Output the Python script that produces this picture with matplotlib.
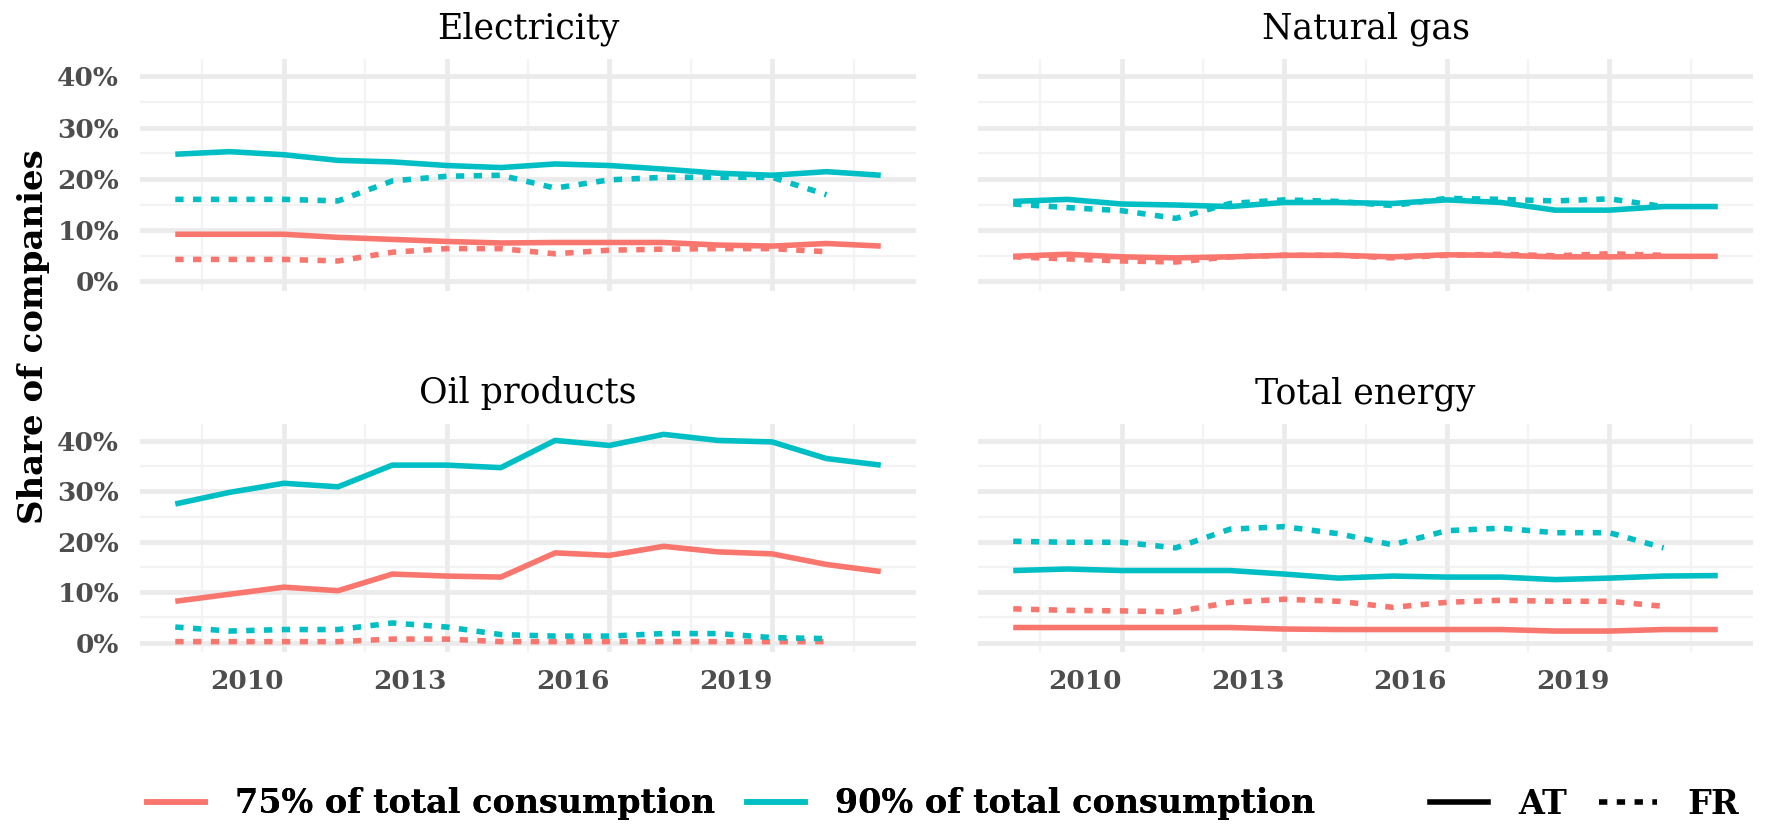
import matplotlib
matplotlib.use("Agg")
import matplotlib.pyplot as plt
from matplotlib.lines import Line2D
from matplotlib.ticker import FixedLocator, FuncFormatter

plt.rcParams['font.family'] = ['DejaVu Serif']

# yearly shares of companies (%), AT runs to 2021, FR to 2020
years_at = [2008, 2009, 2010, 2011, 2012, 2013, 2014, 2015, 2016, 2017, 2018, 2019, 2020, 2021]
years_fr = [2008, 2009, 2010, 2011, 2012, 2013, 2014, 2015, 2016, 2017, 2018, 2019, 2020]

elec_at_75 = [9.2, 9.2, 9.2, 8.6, 8.2, 7.8, 7.5, 7.6, 7.6, 7.6, 7.1, 6.9, 7.4, 6.9]
elec_at_90 = [24.8, 25.3, 24.7, 23.6, 23.3, 22.6, 22.2, 22.9, 22.6, 21.9, 21.1, 20.7, 21.4, 20.7]
elec_fr_75 = [4.3, 4.3, 4.3, 4.0, 5.7, 6.4, 6.4, 5.4, 6.1, 6.3, 6.4, 6.4, 5.8]
elec_fr_90 = [16.0, 16.0, 16.0, 15.7, 19.6, 20.5, 20.7, 18.2, 19.8, 20.3, 20.3, 20.3, 16.9]

gas_at_75 = [4.9, 5.3, 4.8, 4.6, 4.8, 5.1, 5.1, 4.8, 5.2, 5.1, 4.8, 4.8, 4.9, 4.9]
gas_at_90 = [15.6, 16.0, 15.1, 14.9, 14.6, 15.4, 15.4, 15.2, 15.9, 15.4, 13.9, 13.9, 14.6, 14.6]
gas_fr_75 = [4.8, 4.4, 4.0, 3.8, 4.8, 5.1, 5.1, 4.6, 5.1, 5.3, 5.0, 5.4, 5.1]
gas_fr_90 = [15.1, 14.4, 13.8, 12.3, 15.2, 15.9, 15.6, 14.8, 16.2, 16.0, 15.7, 16.1, 14.6]

oil_at_75 = [8.2, 9.6, 11.0, 10.3, 13.6, 13.2, 13.0, 17.8, 17.3, 19.1, 18.0, 17.6, 15.5, 14.1]
oil_at_90 = [27.5, 29.8, 31.6, 30.9, 35.2, 35.2, 34.7, 40.1, 39.1, 41.3, 40.1, 39.8, 36.5, 35.2]
oil_fr_75 = [0.2, 0.2, 0.2, 0.2, 0.7, 0.7, 0.2, 0.2, 0.2, 0.2, 0.2, 0.2, 0.2]
oil_fr_90 = [3.1, 2.3, 2.6, 2.6, 3.9, 3.1, 1.6, 1.3, 1.3, 1.8, 1.8, 1.0, 0.8]

tot_at_75 = [3.0, 3.0, 3.0, 3.0, 3.0, 2.7, 2.6, 2.6, 2.6, 2.6, 2.3, 2.3, 2.6, 2.6]
tot_at_90 = [14.3, 14.6, 14.3, 14.3, 14.3, 13.6, 12.8, 13.2, 13.0, 13.0, 12.5, 12.8, 13.2, 13.3]
tot_fr_75 = [6.7, 6.4, 6.3, 6.1, 8.0, 8.6, 8.2, 7.0, 8.0, 8.4, 8.2, 8.2, 7.2]
tot_fr_90 = [20.1, 19.9, 19.9, 18.8, 22.5, 23.0, 21.6, 19.4, 22.2, 22.7, 21.8, 21.8, 18.8]

panels = [
    ('Electricity', elec_at_75, elec_at_90, elec_fr_75, elec_fr_90),
    ('Natural gas', gas_at_75, gas_at_90, gas_fr_75, gas_fr_90),
    ('Oil products', oil_at_75, oil_at_90, oil_fr_75, oil_fr_90),
    ('Total energy', tot_at_75, tot_at_90, tot_fr_75, tot_fr_90),
]

RED = '#F8766D'
CYAN = '#00BFC4'
LW = 4.0
DOTTED = (0, (1.5, 1.7))
x_breaks = [2010, 2013, 2016, 2019]
x_minor = [2008.5, 2011.5, 2014.5, 2017.5, 2020.5]
y_breaks = [0, 10, 20, 30, 40]
y_minor = [5, 15, 25, 35]

# shared scales with the usual 5% padding
all_vals = [v for p in panels for s in p[1:] for v in s]
lo, hi = min(all_vals), max(all_vals)
ylim = (lo - 0.05 * (hi - lo), hi + 0.05 * (hi - lo))
xlim = (2008 - 0.05 * 13, 2021 + 0.05 * 13)

W, H = 1769, 832
fig = plt.figure(figsize=(W / 100, H / 100), dpi=100)
fig.patch.set_facecolor('white')

def px_axes(x0, y0, x1, y1):
    return fig.add_axes([x0 / W, 1 - y1 / H, (x1 - x0) / W, (y1 - y0) / H])

boxes = [(140, 59, 916, 291), (978, 59, 1753, 291),
         (140, 424, 916, 652), (978, 424, 1753, 652)]

for i, (title, at75, at90, fr75, fr90) in enumerate(panels):
    ax = px_axes(*boxes[i])
    for xv in x_minor:
        ax.axvline(xv, color='#F3F3F3', lw=1.6, zorder=0)
    for yv in y_minor:
        ax.axhline(yv, color='#F3F3F3', lw=1.6, zorder=0)
    for xv in x_breaks:
        ax.axvline(xv, color='#EBEBEB', lw=3.4, zorder=0)
    for yv in y_breaks:
        ax.axhline(yv, color='#EBEBEB', lw=3.4, zorder=0)

    ax.plot(years_at, at75, color=RED, lw=LW, solid_capstyle='butt')
    ax.plot(years_at, at90, color=CYAN, lw=LW, solid_capstyle='butt')
    ax.plot(years_fr, fr75, color=RED, lw=LW, linestyle=DOTTED)
    ax.plot(years_fr, fr90, color=CYAN, lw=LW, linestyle=DOTTED)

    ax.set_xlim(*xlim)
    ax.set_ylim(*ylim)
    for s in ax.spines.values():
        s.set_visible(False)
    ax.xaxis.set_major_locator(FixedLocator(x_breaks))
    ax.yaxis.set_major_locator(FixedLocator(y_breaks))
    ax.yaxis.set_major_formatter(FuncFormatter(lambda v, _: f'{v:.0f}%'))
    ax.tick_params(length=0, labelsize=19, labelcolor='#4D4D4D')
    ax.tick_params(axis='x', pad=12)
    ax.tick_params(axis='y', pad=15)
    for lab in ax.get_xticklabels() + ax.get_yticklabels():
        lab.set_fontweight('bold')
    for lab in ax.get_xticklabels():
        lab.set_horizontalalignment('right')
    if i < 2:
        ax.set_xticklabels([])
    if i % 2 == 1:
        ax.set_yticklabels([])
    ax.set_title(title, fontsize=25, pad=15)

fig.text(34 / W, 1 - 337 / H, 'Share of companies', rotation=90,
         ha='center', va='center', fontsize=24.5, fontweight='bold')

# colour legend and country legend along the bottom
leg_kw = dict(loc='center left', ncol=2, frameon=False, borderpad=0,
              borderaxespad=0, handlelength=1.75, handletextpad=0.9,
              columnspacing=0.95, prop={'size': 24, 'weight': 'bold'})
col_handles = [Line2D([], [], color=RED, lw=LW), Line2D([], [], color=CYAN, lw=LW)]
leg1 = fig.legend(col_handles, ['75% of total consumption', '90% of total consumption'],
                  bbox_to_anchor=(147 / W, 1 - 804 / H), **leg_kw)
fig.add_artist(leg1)
cty_handles = [Line2D([], [], color='black', lw=LW),
               Line2D([], [], color='black', lw=LW, linestyle=DOTTED)]
fig.legend(cty_handles, ['AT', 'FR'], bbox_to_anchor=(1430 / W, 1 - 804 / H), **leg_kw)

fig.savefig('out.png', dpi=100, facecolor='white')
